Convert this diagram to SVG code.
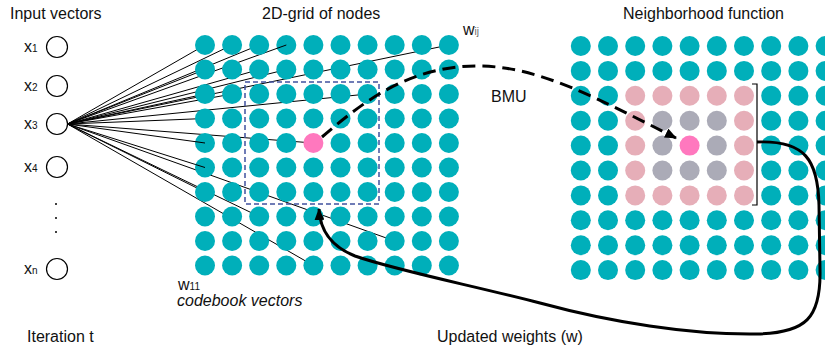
<svg xmlns="http://www.w3.org/2000/svg" width="825" height="351" viewBox="0 0 825 351">
  <style>
    text { font-family: "Liberation Sans", Arial, sans-serif; font-size: 16px; fill: #111; }
    .sub { font-size: 10px; }
    .t { fill: #00AFBA; }
    .p { fill: #FF78BE; }
    .n { fill: #E6AEB8; }
    .g { fill: #ABABB7; }
    .in { fill: #fff; stroke: #000; stroke-width: 1.2; }
    .w { stroke: #000; stroke-width: 1; fill: none; }
  </style>
  <defs>
    <marker id="head" viewBox="0 0 12 10" refX="11" refY="5" markerWidth="12" markerHeight="10" markerUnits="userSpaceOnUse" orient="auto">
      <path d="M0,0 L12,5 L0,10 Z" fill="#000"/>
    </marker>
  </defs>

  <rect width="825" height="351" fill="#fff"/>

  <!-- headings -->
  <text x="10" y="19">Input vectors</text>
  <text x="262" y="19">2D-grid of nodes</text>
  <text x="623" y="19">Neighborhood function</text>
  <text x="27" y="342">Iteration t</text>
  <text x="437" y="342">Updated weights (w)</text>
  <text x="491" y="102">BMU</text>
  <text x="177" y="306" font-style="italic">codebook vectors</text>
  <text x="178" y="290">w<tspan class="sub">11</tspan></text>
  <text x="463" y="35">w<tspan class="sub" fill="#666">ij</tspan></text>

  <!-- weights from x3 to the grid (drawn beneath the nodes) -->
  <g id="connectors" class="w">
    <line x1="67.5" y1="124" x2="205" y2="45"/>
    <line x1="67.5" y1="124" x2="232.1" y2="45"/>
    <line x1="67.5" y1="124" x2="259.2" y2="45"/>
    <line x1="67.5" y1="124" x2="286.3" y2="45"/>
    <line x1="67.5" y1="124" x2="448.9" y2="45"/>
    <line x1="67.5" y1="124" x2="205" y2="69.5"/>
    <line x1="67.5" y1="124" x2="259.2" y2="69.5"/>
    <line x1="67.5" y1="124" x2="286.3" y2="69.5"/>
    <line x1="67.5" y1="124" x2="205" y2="94"/>
    <line x1="67.5" y1="124" x2="232.1" y2="94"/>
    <line x1="67.5" y1="124" x2="367.6" y2="94"/>
    <line x1="67.5" y1="124" x2="205" y2="118.5"/>
    <line x1="67.5" y1="124" x2="205" y2="143"/>
    <line x1="67.5" y1="124" x2="313.4" y2="143"/>
    <line x1="67.5" y1="124" x2="205" y2="167.5"/>
    <line x1="67.5" y1="124" x2="205" y2="192"/>
    <line x1="67.5" y1="124" x2="259.2" y2="216.5"/>
    <line x1="67.5" y1="124" x2="394.7" y2="241"/>
    <line x1="67.5" y1="124" x2="313.4" y2="265.5"/>
  </g>

  <!-- input vector nodes -->
  <g id="x1"><circle class="in" cx="57" cy="47" r="10.5"/><text x="24" y="52">x<tspan class="sub">1</tspan></text></g>
  <g id="x2"><circle class="in" cx="57" cy="86" r="10.5"/><text x="24" y="91">x<tspan class="sub">2</tspan></text></g>
  <g id="x3"><circle class="in" cx="57" cy="124" r="10.5"/><text x="24" y="129">x<tspan class="sub">3</tspan></text></g>
  <g id="x4"><circle class="in" cx="57" cy="167" r="10.5"/><text x="24" y="172">x<tspan class="sub">4</tspan></text></g>
  <g id="dots" fill="#000">
    <circle cx="56" cy="204" r="1"/>
    <circle cx="56" cy="218" r="1"/>
    <circle cx="56" cy="232" r="1"/>
  </g>
  <g id="xn"><circle class="in" cx="57" cy="269" r="10.5"/><text x="24" y="274">x<tspan class="sub">n</tspan></text></g>

  <!-- left grid: 10 x 10 nodes -->
  <g id="grid-left">
    <g id="L-r0"><circle class="t" cx="205" cy="45" r="10"/><circle class="t" cx="232.1" cy="45" r="10"/><circle class="t" cx="259.2" cy="45" r="10"/><circle class="t" cx="286.3" cy="45" r="10"/><circle class="t" cx="313.4" cy="45" r="10"/><circle class="t" cx="340.5" cy="45" r="10"/><circle class="t" cx="367.6" cy="45" r="10"/><circle class="t" cx="394.7" cy="45" r="10"/><circle class="t" cx="421.8" cy="45" r="10"/><circle class="t" cx="448.9" cy="45" r="10"/></g>
    <g id="L-r1"><circle class="t" cx="205" cy="69.5" r="10"/><circle class="t" cx="232.1" cy="69.5" r="10"/><circle class="t" cx="259.2" cy="69.5" r="10"/><circle class="t" cx="286.3" cy="69.5" r="10"/><circle class="t" cx="313.4" cy="69.5" r="10"/><circle class="t" cx="340.5" cy="69.5" r="10"/><circle class="t" cx="367.6" cy="69.5" r="10"/><circle class="t" cx="394.7" cy="69.5" r="10"/><circle class="t" cx="421.8" cy="69.5" r="10"/><circle class="t" cx="448.9" cy="69.5" r="10"/></g>
    <g id="L-r2"><circle class="t" cx="205" cy="94" r="10"/><circle class="t" cx="232.1" cy="94" r="10"/><circle class="t" cx="259.2" cy="94" r="10"/><circle class="t" cx="286.3" cy="94" r="10"/><circle class="t" cx="313.4" cy="94" r="10"/><circle class="t" cx="340.5" cy="94" r="10"/><circle class="t" cx="367.6" cy="94" r="10"/><circle class="t" cx="394.7" cy="94" r="10"/><circle class="t" cx="421.8" cy="94" r="10"/><circle class="t" cx="448.9" cy="94" r="10"/></g>
    <g id="L-r3"><circle class="t" cx="205" cy="118.5" r="10"/><circle class="t" cx="232.1" cy="118.5" r="10"/><circle class="t" cx="259.2" cy="118.5" r="10"/><circle class="t" cx="286.3" cy="118.5" r="10"/><circle class="t" cx="313.4" cy="118.5" r="10"/><circle class="t" cx="340.5" cy="118.5" r="10"/><circle class="t" cx="367.6" cy="118.5" r="10"/><circle class="t" cx="394.7" cy="118.5" r="10"/><circle class="t" cx="421.8" cy="118.5" r="10"/><circle class="t" cx="448.9" cy="118.5" r="10"/></g>
    <g id="L-r4"><circle class="t" cx="205" cy="143" r="10"/><circle class="t" cx="232.1" cy="143" r="10"/><circle class="t" cx="259.2" cy="143" r="10"/><circle class="t" cx="286.3" cy="143" r="10"/><circle id="bmu-left" class="p" cx="313.4" cy="143" r="10"/><circle class="t" cx="340.5" cy="143" r="10"/><circle class="t" cx="367.6" cy="143" r="10"/><circle class="t" cx="394.7" cy="143" r="10"/><circle class="t" cx="421.8" cy="143" r="10"/><circle class="t" cx="448.9" cy="143" r="10"/></g>
    <g id="L-r5"><circle class="t" cx="205" cy="167.5" r="10"/><circle class="t" cx="232.1" cy="167.5" r="10"/><circle class="t" cx="259.2" cy="167.5" r="10"/><circle class="t" cx="286.3" cy="167.5" r="10"/><circle class="t" cx="313.4" cy="167.5" r="10"/><circle class="t" cx="340.5" cy="167.5" r="10"/><circle class="t" cx="367.6" cy="167.5" r="10"/><circle class="t" cx="394.7" cy="167.5" r="10"/><circle class="t" cx="421.8" cy="167.5" r="10"/><circle class="t" cx="448.9" cy="167.5" r="10"/></g>
    <g id="L-r6"><circle class="t" cx="205" cy="192" r="10"/><circle class="t" cx="232.1" cy="192" r="10"/><circle class="t" cx="259.2" cy="192" r="10"/><circle class="t" cx="286.3" cy="192" r="10"/><circle class="t" cx="313.4" cy="192" r="10"/><circle class="t" cx="340.5" cy="192" r="10"/><circle class="t" cx="367.6" cy="192" r="10"/><circle class="t" cx="394.7" cy="192" r="10"/><circle class="t" cx="421.8" cy="192" r="10"/><circle class="t" cx="448.9" cy="192" r="10"/></g>
    <g id="L-r7"><circle class="t" cx="205" cy="216.5" r="10"/><circle class="t" cx="232.1" cy="216.5" r="10"/><circle class="t" cx="259.2" cy="216.5" r="10"/><circle class="t" cx="286.3" cy="216.5" r="10"/><circle class="t" cx="313.4" cy="216.5" r="10"/><circle class="t" cx="340.5" cy="216.5" r="10"/><circle class="t" cx="367.6" cy="216.5" r="10"/><circle class="t" cx="394.7" cy="216.5" r="10"/><circle class="t" cx="421.8" cy="216.5" r="10"/><circle class="t" cx="448.9" cy="216.5" r="10"/></g>
    <g id="L-r8"><circle class="t" cx="205" cy="241" r="10"/><circle class="t" cx="232.1" cy="241" r="10"/><circle class="t" cx="259.2" cy="241" r="10"/><circle class="t" cx="286.3" cy="241" r="10"/><circle class="t" cx="313.4" cy="241" r="10"/><circle class="t" cx="340.5" cy="241" r="10"/><circle class="t" cx="367.6" cy="241" r="10"/><circle class="t" cx="394.7" cy="241" r="10"/><circle class="t" cx="421.8" cy="241" r="10"/><circle class="t" cx="448.9" cy="241" r="10"/></g>
    <g id="L-r9"><circle class="t" cx="205" cy="265.5" r="10"/><circle class="t" cx="232.1" cy="265.5" r="10"/><circle class="t" cx="259.2" cy="265.5" r="10"/><circle class="t" cx="286.3" cy="265.5" r="10"/><circle class="t" cx="313.4" cy="265.5" r="10"/><circle class="t" cx="340.5" cy="265.5" r="10"/><circle class="t" cx="367.6" cy="265.5" r="10"/><circle class="t" cx="394.7" cy="265.5" r="10"/><circle class="t" cx="421.8" cy="265.5" r="10"/><circle class="t" cx="448.9" cy="265.5" r="10"/></g>
  </g>

  <!-- ends of weight lines that reach into their node -->
  <g id="connector-ends" class="w">
    <line x1="276.9" y1="48.4" x2="286.3" y2="45"/>
    <line x1="195.1" y1="141.6" x2="205" y2="143"/>
    <line x1="195.5" y1="164.5" x2="205" y2="167.5"/>
  </g>

  <!-- neighbourhood window around the BMU -->
  <rect id="window" x="245" y="82" width="134" height="122" fill="none" stroke="#40529E" stroke-width="1.5" stroke-dasharray="5 3"/>

  <!-- right grid: neighbourhood function -->
  <g id="grid-right">
    <g id="R-r0"><circle class="t" cx="580.8" cy="46" r="10"/><circle class="t" cx="608" cy="46" r="10"/><circle class="t" cx="635.2" cy="46" r="10"/><circle class="t" cx="662.4" cy="46" r="10"/><circle class="t" cx="689.6" cy="46" r="10"/><circle class="t" cx="716.8" cy="46" r="10"/><circle class="t" cx="744" cy="46" r="10"/><circle class="t" cx="771.2" cy="46" r="10"/><circle class="t" cx="798.4" cy="46" r="10"/><circle class="t" cx="825.6" cy="46" r="10"/></g>
    <g id="R-r1"><circle class="t" cx="580.8" cy="70.9" r="10"/><circle class="t" cx="608" cy="70.9" r="10"/><circle class="t" cx="635.2" cy="70.9" r="10"/><circle class="t" cx="662.4" cy="70.9" r="10"/><circle class="t" cx="689.6" cy="70.9" r="10"/><circle class="t" cx="716.8" cy="70.9" r="10"/><circle class="t" cx="744" cy="70.9" r="10"/><circle class="t" cx="771.2" cy="70.9" r="10"/><circle class="t" cx="798.4" cy="70.9" r="10"/><circle class="t" cx="825.6" cy="70.9" r="10"/></g>
    <g id="R-r2"><circle class="t" cx="580.8" cy="95.8" r="10"/><circle class="t" cx="608" cy="95.8" r="10"/><circle class="n" cx="635.2" cy="95.8" r="10"/><circle class="n" cx="662.4" cy="95.8" r="10"/><circle class="n" cx="689.6" cy="95.8" r="10"/><circle class="n" cx="716.8" cy="95.8" r="10"/><circle class="n" cx="744" cy="95.8" r="10"/><circle class="t" cx="771.2" cy="95.8" r="10"/><circle class="t" cx="798.4" cy="95.8" r="10"/><circle class="t" cx="825.6" cy="95.8" r="10"/></g>
    <g id="R-r3"><circle class="t" cx="580.8" cy="120.7" r="10"/><circle class="t" cx="608" cy="120.7" r="10"/><circle class="n" cx="635.2" cy="120.7" r="10"/><circle class="g" cx="662.4" cy="120.7" r="10"/><circle class="g" cx="689.6" cy="120.7" r="10"/><circle class="g" cx="716.8" cy="120.7" r="10"/><circle class="n" cx="744" cy="120.7" r="10"/><circle class="t" cx="771.2" cy="120.7" r="10"/><circle class="t" cx="798.4" cy="120.7" r="10"/><circle class="t" cx="825.6" cy="120.7" r="10"/></g>
    <g id="R-r4"><circle class="t" cx="580.8" cy="145.6" r="10"/><circle class="t" cx="608" cy="145.6" r="10"/><circle class="n" cx="635.2" cy="145.6" r="10"/><circle class="g" cx="662.4" cy="145.6" r="10"/><circle id="bmu-right" class="p" cx="689.6" cy="145.6" r="10"/><circle class="g" cx="716.8" cy="145.6" r="10"/><circle class="n" cx="744" cy="145.6" r="10"/><circle class="t" cx="771.2" cy="145.6" r="10"/><circle class="t" cx="798.4" cy="145.6" r="10"/><circle class="t" cx="825.6" cy="145.6" r="10"/></g>
    <g id="R-r5"><circle class="t" cx="580.8" cy="170.5" r="10"/><circle class="t" cx="608" cy="170.5" r="10"/><circle class="n" cx="635.2" cy="170.5" r="10"/><circle class="g" cx="662.4" cy="170.5" r="10"/><circle class="g" cx="689.6" cy="170.5" r="10"/><circle class="g" cx="716.8" cy="170.5" r="10"/><circle class="n" cx="744" cy="170.5" r="10"/><circle class="t" cx="771.2" cy="170.5" r="10"/><circle class="t" cx="798.4" cy="170.5" r="10"/><circle class="t" cx="825.6" cy="170.5" r="10"/></g>
    <g id="R-r6"><circle class="t" cx="580.8" cy="195.4" r="10"/><circle class="t" cx="608" cy="195.4" r="10"/><circle class="n" cx="635.2" cy="195.4" r="10"/><circle class="n" cx="662.4" cy="195.4" r="10"/><circle class="n" cx="689.6" cy="195.4" r="10"/><circle class="n" cx="716.8" cy="195.4" r="10"/><circle class="n" cx="744" cy="195.4" r="10"/><circle class="t" cx="771.2" cy="195.4" r="10"/><circle class="t" cx="798.4" cy="195.4" r="10"/><circle class="t" cx="825.6" cy="195.4" r="10"/></g>
    <g id="R-r7"><circle class="t" cx="580.8" cy="220.3" r="10"/><circle class="t" cx="608" cy="220.3" r="10"/><circle class="t" cx="635.2" cy="220.3" r="10"/><circle class="t" cx="662.4" cy="220.3" r="10"/><circle class="t" cx="689.6" cy="220.3" r="10"/><circle class="t" cx="716.8" cy="220.3" r="10"/><circle class="t" cx="744" cy="220.3" r="10"/><circle class="t" cx="771.2" cy="220.3" r="10"/><circle class="t" cx="798.4" cy="220.3" r="10"/><circle class="t" cx="825.6" cy="220.3" r="10"/></g>
    <g id="R-r8"><circle class="t" cx="580.8" cy="245.2" r="10"/><circle class="t" cx="608" cy="245.2" r="10"/><circle class="t" cx="635.2" cy="245.2" r="10"/><circle class="t" cx="662.4" cy="245.2" r="10"/><circle class="t" cx="689.6" cy="245.2" r="10"/><circle class="t" cx="716.8" cy="245.2" r="10"/><circle class="t" cx="744" cy="245.2" r="10"/><circle class="t" cx="771.2" cy="245.2" r="10"/><circle class="t" cx="798.4" cy="245.2" r="10"/><circle class="t" cx="825.6" cy="245.2" r="10"/></g>
    <g id="R-r9"><circle class="t" cx="580.8" cy="270.1" r="10"/><circle class="t" cx="608" cy="270.1" r="10"/><circle class="t" cx="635.2" cy="270.1" r="10"/><circle class="t" cx="662.4" cy="270.1" r="10"/><circle class="t" cx="689.6" cy="270.1" r="10"/><circle class="t" cx="716.8" cy="270.1" r="10"/><circle class="t" cx="744" cy="270.1" r="10"/><circle class="t" cx="771.2" cy="270.1" r="10"/><circle class="t" cx="798.4" cy="270.1" r="10"/><circle class="t" cx="825.6" cy="270.1" r="10"/></g>
  </g>

  <!-- bracket marking the neighbourhood -->
  <path id="bracket" d="M752,84 L757,84 L757,205 L752,205" fill="none" stroke="#000" stroke-width="1.2"/>

  <!-- BMU mapping and weight update arrows -->
  <g id="arrows" fill="none" stroke="#000" stroke-width="3">
    <path id="to-bmu" d="M322,137 C365,100 410,66 478,66 C540,66 600,100 676,138" stroke-dasharray="13 7" marker-end="url(#head)"/>
    <path id="update" d="M757,142 C805,140 818,160 819,205 L820,270 C821,318 806,333 757,334 C690,335 610,322 540,303 C470,285 395,270 355,256 C330,246 320,230 319,209" marker-end="url(#head)"/>
  </g>
</svg>
